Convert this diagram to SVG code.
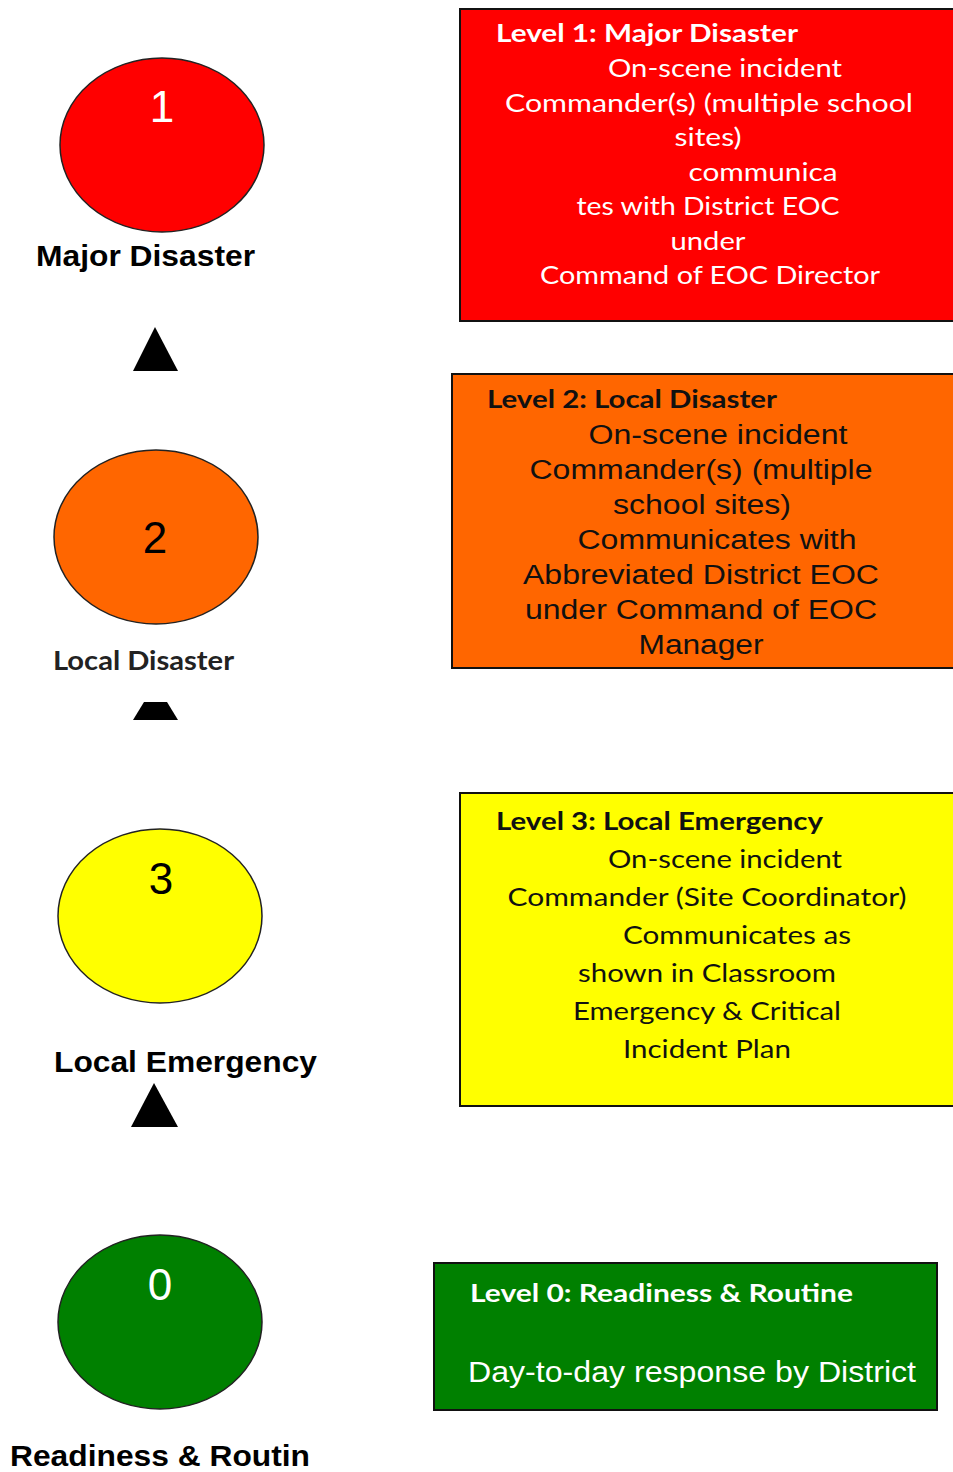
<svg xmlns="http://www.w3.org/2000/svg" width="953" height="1472" viewBox="0 0 953 1472">
<style>
.ell{stroke:#222;stroke-width:1.5}
.box{stroke:#111;stroke-width:2}
.num{font-family:"Liberation Sans",Arial,sans-serif;font-size:44px;text-anchor:middle}
.lblA{font-family:"Liberation Sans",Arial,sans-serif;font-weight:bold;font-size:29px;fill:#000}
.lblC{font-family:Lato,"Open Sans",sans-serif;font-weight:bold;font-size:26px;fill:#222}
.cal{font-family:Lato,"Open Sans",sans-serif;font-size:25px;text-anchor:middle}
.calb{font-family:Lato,"Open Sans",sans-serif;font-weight:bold;font-size:25px}
.ari{font-family:"Liberation Sans",Arial,sans-serif;font-size:27px;text-anchor:middle;fill:#111}
.arrow{fill:#000}
</style>
<rect width="953" height="1472" fill="#fff"/>

<g id="level1-circle">
<ellipse class="ell" cx="162" cy="145" rx="102" ry="87" fill="#ff0000"/>
<text class="num" x="162" y="122" fill="#fff">1</text>
<text class="lblA" x="36" y="266" textLength="219" lengthAdjust="spacingAndGlyphs">Major Disaster</text>
</g>

<g id="level2-circle">
<ellipse class="ell" cx="156" cy="537" rx="102" ry="87" fill="#ff6600"/>
<text class="num" x="155" y="553" fill="#000">2</text>
<text class="lblC" x="53" y="670" textLength="181" lengthAdjust="spacingAndGlyphs">Local Disaster</text>
</g>

<g id="level3-circle">
<ellipse class="ell" cx="160" cy="916" rx="102" ry="87" fill="#ffff00"/>
<text class="num" x="161" y="894" fill="#000">3</text>
<text class="lblA" x="54" y="1072" textLength="263" lengthAdjust="spacingAndGlyphs">Local Emergency</text>
</g>

<g id="level0-circle">
<ellipse class="ell" cx="160" cy="1322" rx="102" ry="87" fill="#008000"/>
<text class="num" x="160" y="1300" fill="#fff">0</text>
<text class="lblA" x="10" y="1466" textLength="300" lengthAdjust="spacingAndGlyphs">Readiness &amp; Routin</text>
</g>

<g id="connectors">
<polygon class="arrow" points="155,327 178,371 133,371"/>
<polygon class="arrow" points="144,702 167,702 178,720 133,720"/>
<polygon class="arrow" points="154,1083 178,1127 131,1127"/>
</g>

<g id="level1-box">
<rect class="box" x="460" y="9" width="500" height="312" fill="#ff0000"/>
<text class="calb" x="496" y="42" fill="#fff" textLength="302" lengthAdjust="spacingAndGlyphs">Level 1: Major Disaster</text>
<g class="cal" fill="#fff">
<text x="725" y="77" textLength="234" lengthAdjust="spacingAndGlyphs">On-scene incident</text>
<text x="709" y="112" textLength="408" lengthAdjust="spacingAndGlyphs">Commander(s) (multiple school</text>
<text x="708" y="146" textLength="67" lengthAdjust="spacingAndGlyphs">sites)</text>
<text x="763" y="181" textLength="149" lengthAdjust="spacingAndGlyphs">communica</text>
<text x="708" y="215" textLength="263" lengthAdjust="spacingAndGlyphs">tes with District EOC</text>
<text x="708" y="250" textLength="75" lengthAdjust="spacingAndGlyphs">under</text>
<text x="710" y="284" textLength="340" lengthAdjust="spacingAndGlyphs">Command of EOC Director</text>
</g>
</g>

<g id="level2-box">
<rect class="box" x="452" y="374" width="510" height="294" fill="#ff6600"/>
<text class="calb" x="487" y="408" fill="#111" textLength="290" lengthAdjust="spacingAndGlyphs">Level 2: Local Disaster</text>
<g class="ari">
<text x="718" y="444" textLength="259" lengthAdjust="spacingAndGlyphs">On-scene incident</text>
<text x="701" y="479" textLength="343" lengthAdjust="spacingAndGlyphs">Commander(s) (multiple</text>
<text x="702" y="514" textLength="178" lengthAdjust="spacingAndGlyphs">school sites)</text>
<text x="717" y="549" textLength="279" lengthAdjust="spacingAndGlyphs">Communicates with</text>
<text x="701" y="584" textLength="356" lengthAdjust="spacingAndGlyphs">Abbreviated District EOC</text>
<text x="701" y="619" textLength="352" lengthAdjust="spacingAndGlyphs">under Command of EOC</text>
<text x="701" y="654" textLength="125" lengthAdjust="spacingAndGlyphs">Manager</text>
</g>
</g>

<g id="level3-box">
<rect class="box" x="460" y="793" width="500" height="313" fill="#ffff00"/>
<text class="calb" x="496" y="830" fill="#111" textLength="327" lengthAdjust="spacingAndGlyphs">Level 3: Local Emergency</text>
<g class="cal" fill="#111">
<text x="725" y="868" textLength="234" lengthAdjust="spacingAndGlyphs">On-scene incident</text>
<text x="707" y="906" textLength="399" lengthAdjust="spacingAndGlyphs">Commander (Site Coordinator)</text>
<text x="737" y="944" textLength="228" lengthAdjust="spacingAndGlyphs">Communicates as</text>
<text x="707" y="982" textLength="258" lengthAdjust="spacingAndGlyphs">shown in Classroom</text>
<text x="707" y="1020" textLength="268" lengthAdjust="spacingAndGlyphs">Emergency &amp; Critical</text>
<text x="707" y="1058" textLength="168" lengthAdjust="spacingAndGlyphs">Incident Plan</text>
</g>
</g>

<g id="level0-box">
<rect class="box" x="434" y="1263" width="503" height="147" fill="#008000"/>
<text class="calb" x="470" y="1302" fill="#fff" textLength="383" lengthAdjust="spacingAndGlyphs">Level 0: Readiness &amp; Routine</text>
<text x="468" y="1382" fill="#fff" font-family="Liberation Sans, Arial, sans-serif" font-size="29" textLength="448" lengthAdjust="spacingAndGlyphs">Day-to-day response by District</text>
</g>
</svg>
